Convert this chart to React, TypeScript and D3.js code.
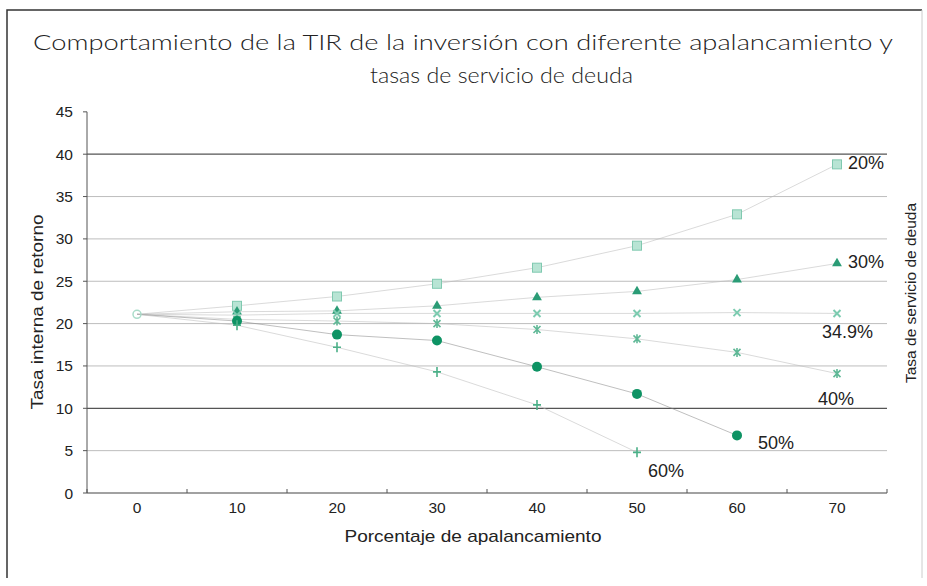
import React from "react";
import * as d3 from "d3";

const categories = ["0", "10", "20", "30", "40", "50", "60", "70"];
const yTicks = [0, 5, 10, 15, 20, 25, 30, 35, 40, 45];

const s20 = [21.1, 22.1, 23.2, 24.7, 26.6, 29.2, 32.9, 38.8];
const s30 = [21.1, 21.4, 21.5, 22.1, 23.1, 23.8, 25.2, 27.1];
const s349 = [21.1, 21.0, 21.2, 21.2, 21.2, 21.2, 21.3, 21.2];
const s40 = [21.1, 20.5, 20.3, 20.0, 19.3, 18.2, 16.6, 14.1];
const s50 = [21.1, 20.3, 18.7, 18.0, 14.9, 11.7, 6.8, null];
const s60 = [21.1, 19.8, 17.2, 14.3, 10.4, 4.8, null, null];

const seriesNames = ["20%", "30%", "34.9%", "40%", "50%", "60%"];
const seriesValues = [s20, s30, s349, s40, s50, s60];

const W = 927;
const H = 586;
const left = 87;
const right = 887;
const bottom = 493;

export default function App() {
  const x = d3.scaleBand<string>().domain(categories).range([left, right]);
  const y = d3.scaleLinear().domain([0, 45]).range([bottom, bottom - 45 * 8.47]);
  const cx = (i: number) => (x(categories[i]) as number) + x.bandwidth() / 2;

  const markerStyles = [
    { shape: "square", fill: "#b8e4d4", stroke: "#80c9b0" },
    { shape: "triangle", fill: "#2b9c76", stroke: "#2b9c76" },
    { shape: "xmark", fill: "none", stroke: "#7ccbb0" },
    { shape: "star", fill: "none", stroke: "#5fb896" },
    { shape: "circle", fill: "#0e9364", stroke: "#0e9364" },
    { shape: "plus", fill: "none", stroke: "#4bb088" },
  ];

  const labelPos = [
    { dx: 848, y: 169 },
    { dx: 848, y: 268 },
    { dx: 822, y: 338 },
    { dx: 818, y: 405 },
    { dx: 758, y: 449 },
    { dx: 648, y: 477 },
  ];

  const line = d3
    .line<number | null>()
    .defined((d) => d !== null)
    .x((_, i) => cx(i))
    .y((d) => y(d as number));

  const marker = (shape: string, px: number, py: number, fill: string, stroke: string, key: string) => {
    switch (shape) {
      case "square":
        return <rect key={key} x={px - 4.5} y={py - 4.5} width={9} height={9} fill={fill} stroke={stroke} strokeWidth={1} />;
      case "triangle":
        return <path key={key} d={d3.symbol(d3.symbolTriangle, 42)() as string} transform={`translate(${px},${py})`} fill={fill} />;
      case "xmark":
        return (
          <path key={key} d={`M${px - 3.5},${py - 3.5}L${px + 3.5},${py + 3.5}M${px + 3.5},${py - 3.5}L${px - 3.5},${py + 3.5}`} stroke={stroke} strokeWidth={2} />
        );
      case "star":
        return (
          <path
            key={key}
            d={`M${px - 3.5},${py - 3.5}L${px + 3.5},${py + 3.5}M${px + 3.5},${py - 3.5}L${px - 3.5},${py + 3.5}M${px},${py - 4.5}L${px},${py + 4.5}`}
            stroke={stroke}
            strokeWidth={1.6}
          />
        );
      case "circle":
        return <circle key={key} cx={px} cy={py} r={5} fill={fill} />;
      default:
        return <path key={key} d={`M${px - 4},${py}L${px + 4},${py}M${px},${py - 5}L${px},${py + 5}`} stroke={stroke} strokeWidth={1.6} />;
    }
  };

  const sans = "'Liberation Sans', Arial, sans-serif";
  const titleFont = "Lato, 'DejaVu Sans', sans-serif";

  return (
    <svg width={W} height={H} style={{ position: "absolute", left: 0, top: 0, background: "#fff" }}>
      <rect x={0} y={0} width={W} height={H} fill="#fff" />
      {/* outer frame */}
      <path d={`M7,578L7,10L922,10`} fill="none" stroke="#333" strokeWidth={1.5} />
      <path d={`M922,10L922,578`} fill="none" stroke="#ccc" strokeWidth={1} />

      {/* title */}
      <text x={33} y={50} fontFamily={titleFont} fontWeight={300} fontSize={22} fill="#222" textLength={860} lengthAdjust="spacingAndGlyphs">
        Comportamiento de la TIR de la inversión con diferente apalancamiento y
      </text>
      <text x={370} y={83} fontFamily={titleFont} fontWeight={300} fontSize={22} fill="#222" textLength={263} lengthAdjust="spacingAndGlyphs">
        tasas de servicio de deuda
      </text>

      {/* gridlines */}
      {yTicks
        .filter((t) => t > 0 && t < 45)
        .map((t) => (
          <line
            key={"g" + t}
            x1={left}
            x2={right}
            y1={y(t)}
            y2={y(t)}
            stroke={t === 40 || t === 10 ? "#555" : "#bdbdbd"}
            strokeWidth={t === 40 || t === 10 ? 1.2 : 1}
          />
        ))}

      {/* axes */}
      <line x1={left} x2={left} y1={y(45)} y2={bottom} stroke="#555" strokeWidth={1} />
      <line x1={left} x2={right} y1={bottom} y2={bottom} stroke="#444" strokeWidth={1.2} />
      {yTicks.map((t) => (
        <g key={"yt" + t}>
          <line x1={left - 4} x2={left} y1={y(t)} y2={y(t)} stroke="#555" />
          <text x={73} y={y(t) + 5.5} textAnchor="end" fontFamily={sans} fontSize={15.5} fill="#222">
            {t}
          </text>
        </g>
      ))}
      {categories.map((c, i) => (
        <g key={"xt" + c}>
          <line x1={x(c) as number} x2={x(c) as number} y1={bottom - 4} y2={bottom} stroke="#555" />
          {i === categories.length - 1 && <line x1={right} x2={right} y1={bottom - 4} y2={bottom} stroke="#555" />}
          <text x={cx(i)} y={513} textAnchor="middle" fontFamily={sans} fontSize={15.5} fill="#222">
            {c}
          </text>
        </g>
      ))}

      {/* axis titles */}
      <text x={473} y={542} textAnchor="middle" fontFamily={sans} fontSize={17} fill="#222" textLength={257} lengthAdjust="spacingAndGlyphs">
        Porcentaje de apalancamiento
      </text>
      <text transform={`translate(43,312) rotate(-90)`} textAnchor="middle" fontFamily={sans} fontSize={16} fill="#222" textLength={195} lengthAdjust="spacingAndGlyphs">
        Tasa interna de retorno
      </text>
      <text transform={`translate(916,293) rotate(-90)`} textAnchor="middle" fontFamily={sans} fontSize={15} fill="#222" textLength={180} lengthAdjust="spacingAndGlyphs">
        Tasa de servicio de deuda
      </text>

      {/* series lines */}
      {seriesValues.map((vals, si) => (
        <path key={"l" + si} d={line(vals) as string} fill="none" stroke={si === 4 ? "#888" : "#bbb"} strokeWidth={0.9} opacity={0.6} />
      ))}

      {/* markers */}
      {seriesValues.map((vals, si) =>
        vals.map((v, i) =>
          v === null
            ? null
            : i === 0
            ? si === 0
              ? <circle key={`m${si}-${i}`} cx={cx(i)} cy={y(v)} r={4} fill="none" stroke="#a9dcc9" strokeWidth={1.5} />
              : null
            : marker(markerStyles[si].shape, cx(i), y(v), markerStyles[si].fill, markerStyles[si].stroke, `m${si}-${i}`)
        )
      )}

      {/* series labels */}
      {seriesNames.map((n, si) => (
        <text key={"sl" + si} x={labelPos[si].dx} y={labelPos[si].y} fontFamily={sans} fontSize={18} fill="#222">
          {n}
        </text>
      ))}
    </svg>
  );
}
